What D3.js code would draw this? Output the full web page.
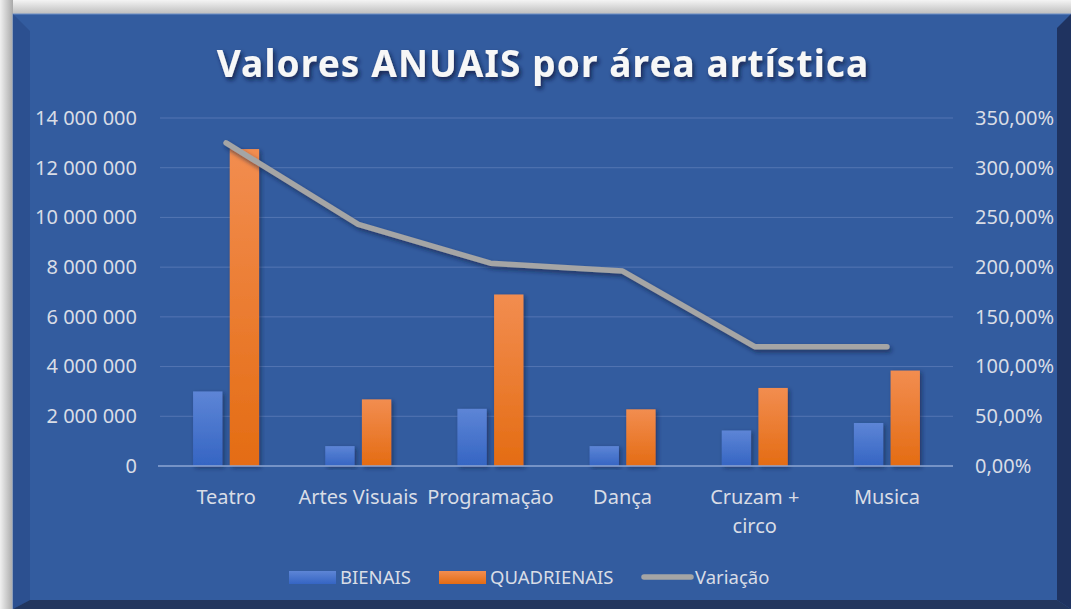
<!DOCTYPE html>
<html>
<head>
<meta charset="utf-8">
<script src="https://cdn.jsdelivr.net/npm/d3@7"></script>
<style>
  body { margin: 0; background: #fff; }
  svg { display: block; }
  text { font-family: 'Noto Sans', 'Open Sans', sans-serif; }
</style>
</head>
<body>
<script>
// données
const CATEGORIES = ['Teatro', 'Artes Visuais', 'Programação', 'Dança', 'Cruzam + circo', 'Musica']
const CAT_LABELS = [['Teatro'], ['Artes Visuais'], ['Programação'], ['Dança'], ['Cruzam +', 'circo'], ['Musica']]
const BIENAIS = [3000000, 800000, 2300000, 800000, 1430000, 1730000]
const QUADRIENAIS = [12750000, 2680000, 6900000, 2280000, 3140000, 3840000]
const VARIACAO = [3.25, 2.43, 2.04, 1.96, 1.20, 1.20]
const SERIES = ['BIENAIS', 'QUADRIENAIS', 'Variação']
const LEFT_TICKS = [0, 2000000, 4000000, 6000000, 8000000, 10000000, 12000000, 14000000]
const RIGHT_TICKS = [0, 0.5, 1, 1.5, 2, 2.5, 3, 3.5]

const WIDTH = 1071
const HEIGHT = 609
const PLOT = { left: 160, right: 953, top: 118, bottom: 466 }
const LABEL_COLOR = '#d9dde6'

const svg = d3.select('body').append('svg')
  .attr('width', WIDTH)
  .attr('height', HEIGHT)

const defs = svg.append('defs')

// dégradés
function vGrad(id, top, bottom) {
  const g = defs.append('linearGradient').attr('id', id)
    .attr('x1', 0).attr('y1', 0).attr('x2', 0).attr('y2', 1)
  g.append('stop').attr('offset', '0%').attr('stop-color', top)
  g.append('stop').attr('offset', '100%').attr('stop-color', bottom)
}
vGrad('gBlue', '#5d85d6', '#3565c3')
vGrad('gOrange', '#f28d50', '#e46c13')
vGrad('gTop', '#f4f4f4', '#bdbdbd')

const hg = defs.append('linearGradient').attr('id', 'gLeft')
  .attr('x1', 0).attr('y1', 0).attr('x2', 1).attr('y2', 0)
hg.append('stop').attr('offset', '0%').attr('stop-color', '#f0f0f0')
hg.append('stop').attr('offset', '100%').attr('stop-color', '#a9a9a9')

// ombres
function shadow(id, dx, dy, blur, op) {
  const f = defs.append('filter').attr('id', id)
    .attr('x', '-20%').attr('y', '-20%').attr('width', '140%').attr('height', '140%')
  f.append('feDropShadow').attr('dx', dx).attr('dy', dy)
    .attr('stdDeviation', blur).attr('flood-color', '#0d1f40').attr('flood-opacity', op)
}
shadow('shBar', 2, 2, 2, 0.55)
shadow('shLine', 2, 3, 2, 0.6)
shadow('shTitle', 2, 3, 2, 0.8)

// cadre
svg.append('rect').attr('width', WIDTH).attr('height', HEIGHT).attr('fill', '#d6d6d6')
svg.append('rect').attr('width', WIDTH).attr('height', 14).attr('fill', 'url(#gTop)')
svg.append('rect').attr('y', 0).attr('width', 13).attr('height', HEIGHT).attr('fill', 'url(#gLeft)')
svg.append('rect').attr('x', 13).attr('y', 14).attr('width', WIDTH - 13).attr('height', HEIGHT - 14)
  .attr('fill', '#335c9f').attr('stroke', '#6f8fc8').attr('stroke-width', 1)
svg.append('polygon').attr('points', '13,14 30,31 30,600 13,609').attr('fill', '#2c5090')
svg.append('polygon').attr('points', '1071,14 1057,28 1057,600 1071,609').attr('fill', '#1f3360')
svg.append('polygon').attr('points', '13,609 30,600 1057,600 1071,609').attr('fill', '#22365e')

// échelles
const x0 = d3.scaleBand().domain(CATEGORIES).range([PLOT.left, PLOT.right])
const bw = x0.bandwidth()
const x1 = d3.scaleBand().domain(['BIENAIS', 'QUADRIENAIS'])
  .range([bw / 2 - 33, bw / 2 + 33]).paddingInner(0.2)
const yL = d3.scaleLinear().domain([0, 14000000]).range([PLOT.bottom, PLOT.top])
const yR = d3.scaleLinear().domain([0, 3.5]).range([PLOT.bottom, PLOT.top])

// grille
svg.append('g').selectAll('line').data(LEFT_TICKS.slice(1)).join('line')
  .attr('x1', PLOT.left).attr('x2', PLOT.right)
  .attr('y1', d => yL(d)).attr('y2', d => yL(d))
  .attr('stroke', '#5475b3').attr('stroke-width', 1)

// axes
const fmtL = d => d3.format(',')(d).replace(/,/g, ' ')
const fmtR = d => d3.format('.2f')(d * 100).replace('.', ',') + '%'

const axL = svg.append('g').attr('transform', `translate(${PLOT.left},0)`)
  .call(d3.axisLeft(yL).tickValues(LEFT_TICKS).tickFormat(fmtL).tickSize(0).tickPadding(23))
const axR = svg.append('g').attr('transform', `translate(${PLOT.right},0)`)
  .call(d3.axisRight(yR).tickValues(RIGHT_TICKS).tickFormat(fmtR).tickSize(0).tickPadding(22))
;[axL, axR].forEach(a => {
  a.select('.domain').remove()
  a.selectAll('text').attr('fill', LABEL_COLOR).attr('font-size', 20)
    .attr('font-family', "'Noto Sans', sans-serif")
})

// barres
const groups = svg.append('g').selectAll('g').data(CATEGORIES).join('g')
  .attr('transform', d => `translate(${x0(d)},0)`)
groups.append('rect')
  .attr('x', x1('BIENAIS')).attr('width', x1.bandwidth())
  .attr('y', (d, i) => yL(BIENAIS[i])).attr('height', (d, i) => yL(0) - yL(BIENAIS[i]))
  .attr('fill', 'url(#gBlue)').attr('filter', 'url(#shBar)')
groups.append('rect')
  .attr('x', x1('QUADRIENAIS')).attr('width', x1.bandwidth())
  .attr('y', (d, i) => yL(QUADRIENAIS[i])).attr('height', (d, i) => yL(0) - yL(QUADRIENAIS[i]))
  .attr('fill', 'url(#gOrange)').attr('filter', 'url(#shBar)')

// axe horizontal
svg.append('line').attr('x1', PLOT.left - 2).attr('x2', PLOT.right)
  .attr('y1', yL(0)).attr('y2', yL(0)).attr('stroke', '#8ea6d3').attr('stroke-width', 1.5)

// étiquettes des catégories
const catText = svg.append('g').selectAll('text').data(CATEGORIES).join('text')
  .attr('x', d => x0(d) + bw / 2).attr('y', 504)
  .attr('text-anchor', 'middle').attr('fill', LABEL_COLOR).attr('font-size', 20)
catText.selectAll('tspan').data((d, i) => CAT_LABELS[i]).join('tspan')
  .attr('x', function () { return this.parentNode.getAttribute('x') })
  .attr('dy', (d, j) => j === 0 ? 0 : 29)
  .text(d => d)

// ligne de variation
const line = d3.line().x((d, i) => x0(CATEGORIES[i]) + bw / 2).y(d => yR(d))
svg.append('path').datum(VARIACAO).attr('d', line)
  .attr('fill', 'none').attr('stroke', '#a5a5a5').attr('stroke-width', 5.5)
  .attr('stroke-linecap', 'round').attr('stroke-linejoin', 'round')
  .attr('filter', 'url(#shLine)')

// titre
svg.append('text').attr('x', 543).attr('y', 77).attr('text-anchor', 'middle')
  .attr('font-size', 37).attr('font-weight', 'bold').attr('letter-spacing', 1.1)
  .attr('fill', '#f7f7f7').attr('filter', 'url(#shTitle)')
  .attr('font-family', "'Open Sans', sans-serif")
  .text('Valores ANUAIS por área artística')

// légende
const LEGEND_X = [289, 439, 641]
const LEGEND_TEXT_X = [340, 490, 695]
const leg = svg.append('g').selectAll('g').data(SERIES).join('g')
leg.each(function (d, i) {
  const g = d3.select(this)
  if (i < 2) {
    g.append('rect').attr('x', LEGEND_X[i]).attr('y', 571).attr('width', 47).attr('height', 13)
      .attr('fill', i === 0 ? 'url(#gBlue)' : 'url(#gOrange)')
  } else {
    g.append('line').attr('x1', LEGEND_X[i] + 3).attr('x2', LEGEND_X[i] + 50)
      .attr('y1', 577).attr('y2', 577).attr('stroke', '#a5a5a5').attr('stroke-width', 5.5)
      .attr('stroke-linecap', 'round')
  }
  g.append('text').attr('x', LEGEND_TEXT_X[i]).attr('y', 584)
    .attr('fill', LABEL_COLOR).attr('font-size', 18.5).text(d)
})
</script>
</body>
</html>
